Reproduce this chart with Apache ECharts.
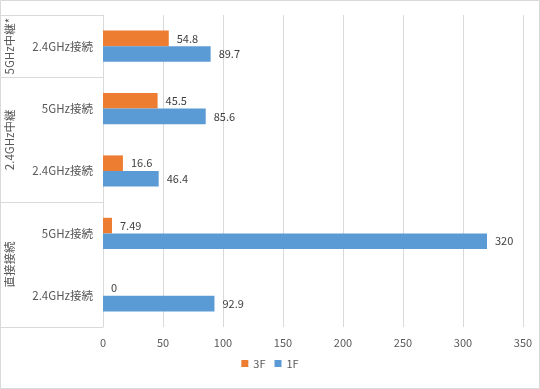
<!DOCTYPE html>
<html><head><meta charset="utf-8">
<script src="https://cdn.jsdelivr.net/npm/echarts@6/dist/echarts.min.js"></script>
<style>html,body{margin:0;padding:0;background:#fff}#c{width:540px;height:389px}</style>
</head><body><div id="c"></div>
<script>
// bottom-to-top order
var categories = ['2.4GHz接続', '5GHz接続', '2.4GHz接続', '5GHz接続', '2.4GHz接続'];
var groupNames = ['直接接続', '2.4GHz中継', '5GHz中継*'];
var groupSizes = [2, 2, 1];
var values3F = [0, 7.49, 16.6, 45.5, 54.8];
var values1F = [92.9, 320, 46.4, 85.6, 89.7];
var xTicks = [0, 50, 100, 150, 200, 250, 300, 350];

var total = groupSizes.reduce(function (a, b) { return a + b; }, 0);
var slots = [];
for (var i = 0; i <= 2 * total; i++) slots.push('');
var boundaries = {0: true};
var start = 0;
groupSizes.forEach(function (n, g) {
  slots[2 * start + n] = groupNames[g];
  start += n;
  boundaries[2 * start] = true;
});

var font = '"Noto Sans CJK JP", "Noto Sans", sans-serif';
var grey = '#d9d9d9';
var chart = echarts.init(document.getElementById('c'), null, {renderer: 'canvas'});
chart.setOption({
  animation: false,
  textStyle: {fontFamily: font},
  grid: {left: 103, right: 17, top: 15, bottom: 62, containLabel: false},
  graphic: [{type: 'rect', shape: {x: 0.5, y: 0.5, width: 539, height: 388}, style: {fill: 'none', stroke: grey, lineWidth: 1}, silent: true}],
  legend: {
    data: ['3F', '1F'], bottom: 15, left: 'center', icon: 'rect', itemWidth: 7, itemHeight: 7, itemGap: 9,
    textStyle: {fontSize: 11, color: '#595959', fontFamily: font}
  },
  xAxis: {
    type: 'value', min: xTicks[0], max: xTicks[xTicks.length - 1], interval: xTicks[1] - xTicks[0],
    axisLine: {show: false}, axisTick: {show: false},
    axisLabel: {color: '#595959', fontSize: 11, margin: 10, fontFamily: font},
    splitLine: {lineStyle: {color: grey, width: 1}}
  },
  yAxis: [{
    type: 'category', data: categories, position: 'left',
    axisLine: {show: true, lineStyle: {color: grey}},
    axisTick: {show: false},
    axisLabel: {color: '#595959', fontSize: 11.5, margin: 10, fontFamily: font}
  }, {
    type: 'category', data: slots, boundaryGap: false, position: 'left',
    axisLine: {show: false},
    axisTick: {show: true, length: 103, lineStyle: {color: grey}, interval: function (idx) { return !!boundaries[idx]; }},
    axisLabel: {color: '#595959', fontSize: 11.5, rotate: 90, margin: 93, interval: 0, align: 'center', verticalAlign: 'middle', fontFamily: font},
    splitLine: {show: false}
  }],
  series: [{
    name: '3F', type: 'bar', yAxisIndex: 0, data: values3F, barGap: '0%', barCategoryGap: '50%',
    itemStyle: {color: '#ED7D31'},
    label: {show: true, position: 'right', distance: 8, color: '#404040', fontSize: 11, fontFamily: font}
  }, {
    name: '1F', type: 'bar', yAxisIndex: 0, data: values1F, barGap: '0%', barCategoryGap: '50%',
    itemStyle: {color: '#5B9BD5'},
    label: {show: true, position: 'right', distance: 8, color: '#404040', fontSize: 11, fontFamily: font}
  }]
});
</script></body></html>
